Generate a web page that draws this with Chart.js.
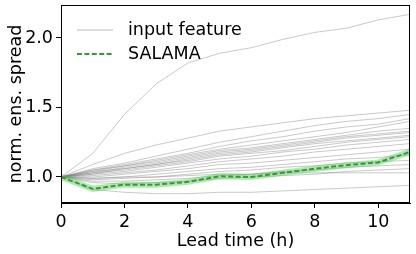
<!DOCTYPE html>
<html>
<head>
<meta charset="utf-8">
<script src="https://cdn.jsdelivr.net/npm/chart.js@4/dist/chart.umd.min.js"></script>
<style>
html,body{margin:0;padding:0;background:#fff;}
#c{display:block;}
</style>
</head>
<body>
<canvas id="c" width="416" height="254"></canvas>
<script>
const leadTimes = [0,1,2,3,4,5,6,7,8,9,10,11];
const xTickValues = [0,2,4,6,8,10];
const yTickValues = [1.0,1.5,2.0];
const legendLabels = ["input feature","SALAMA"];

const salama = [1.0,0.915,0.945,0.945,0.965,1.005,1.0,1.03,1.06,1.085,1.105,1.18];

const feat01 = [1,1.17,1.45,1.67,1.82,1.89,1.93,1.99,2.04,2.07,2.13,2.17];
const feat02 = [1,1.09,1.17,1.23,1.28,1.33,1.36,1.39,1.42,1.44,1.46,1.48];
const feat03 = [1,1.06,1.10,1.15,1.20,1.25,1.29,1.33,1.37,1.40,1.42,1.45];
const feat04 = [1,1.05,1.09,1.13,1.17,1.22,1.26,1.29,1.33,1.36,1.38,1.42];
const feat05 = [1,1.04,1.08,1.12,1.16,1.20,1.23,1.26,1.29,1.32,1.36,1.40];
const feat06 = [1,1.05,1.08,1.11,1.15,1.19,1.21,1.24,1.27,1.30,1.33,1.35];
const feat07 = [1,1.03,1.07,1.10,1.14,1.18,1.20,1.23,1.26,1.29,1.31,1.33];
const feat08 = [1,1.04,1.06,1.09,1.13,1.17,1.19,1.22,1.25,1.28,1.30,1.32];
const feat09 = [1,1.02,1.06,1.09,1.12,1.16,1.18,1.21,1.24,1.26,1.28,1.30];
const feat10 = [1,1.03,1.05,1.08,1.11,1.15,1.17,1.19,1.22,1.25,1.27,1.29];
const feat11 = [1,1.02,1.04,1.07,1.10,1.13,1.15,1.18,1.20,1.23,1.25,1.27];
const feat12 = [1,1.01,1.03,1.05,1.08,1.11,1.13,1.15,1.18,1.20,1.22,1.24];
const feat13 = [1,1.00,1.02,1.04,1.06,1.09,1.10,1.12,1.14,1.16,1.18,1.20];
const feat14 = [1,0.99,1.00,1.02,1.04,1.06,1.07,1.09,1.11,1.13,1.14,1.16];
const feat15 = [1,0.98,0.99,1.00,1.02,1.04,1.05,1.07,1.08,1.10,1.11,1.12];
const feat16 = [1,0.97,0.97,0.98,0.99,1.01,1.02,1.04,1.05,1.07,1.08,1.09];
const feat17 = [1,0.96,0.95,0.96,0.97,0.99,1.00,1.01,1.02,1.04,1.05,1.06];
const feat18 = [1,0.99,1.00,1.00,1.01,1.02,1.02,1.03,1.03,1.03,1.03,1.03];
const feat19 = [1,0.91,0.89,0.88,0.88,0.89,0.89,0.90,0.91,0.92,0.93,0.94];

const features = [feat01,feat02,feat03,feat04,feat05,feat06,feat07,feat08,feat09,feat10,
                  feat11,feat12,feat13,feat14,feat15,feat16,feat17,feat18,feat19];

const FONT = "DejaVu Sans";
const FS = 17.5;
const GREY = "rgba(120,120,120,0.5)";
const GREEN = "rgb(44,160,44)";
const BAND = "rgba(70,200,70,0.42)";

function pts(arr){ return arr.map((v,i)=>({x:leadTimes[i], y:v})); }

const datasets = [];
datasets.push({label:legendLabels[1], data:pts(salama), borderColor:GREEN, borderWidth:2,
  borderDash:[5,2.4], pointRadius:0, fill:false, order:0});
datasets.push({label:"band", data:pts(salama), borderColor:BAND, borderWidth:6,
  pointRadius:0, fill:false, order:1});
features.forEach((f,k)=>{
  datasets.push({label:legendLabels[0]+" "+(k+1), data:pts(f), borderColor:GREY, borderWidth:0.8,
    pointRadius:0, fill:false, order:2});
});

const framePlugin = {
  id:"frame",
  afterDraw(chart){
    const {ctx, chartArea:a} = chart;
    ctx.save();
    ctx.strokeStyle = "#000";
    ctx.lineWidth = 1;
    ctx.strokeRect(a.left+0.5, a.top+0.5, a.right-a.left-1, a.bottom-a.top-1);
    // legend
    const x0 = a.left + 16, x1 = a.left + 52, tx = a.left + 67;
    const y1 = a.top + 25, y2 = a.top + 49;
    ctx.lineWidth = 1;
    ctx.strokeStyle = GREY;
    ctx.beginPath(); ctx.moveTo(x0,y1); ctx.lineTo(x1,y1); ctx.stroke();
    ctx.strokeStyle = GREEN; ctx.lineWidth = 1.8; ctx.setLineDash([5,2.4]);
    ctx.beginPath(); ctx.moveTo(x0,y2); ctx.lineTo(x1,y2); ctx.stroke();
    ctx.setLineDash([]);
    ctx.fillStyle = "#000";
    ctx.font = FS + "px '" + FONT + "'";
    ctx.textBaseline = "middle";
    ctx.textAlign = "left";
    ctx.fillText(legendLabels[0], tx, y1);
    ctx.fillText(legendLabels[1], tx, y2);
    ctx.restore();
  }
};

new Chart(document.getElementById("c"), {
  type:"line",
  data:{datasets},
  options:{
    responsive:false,
    animation:false,
    devicePixelRatio:1,
    layout:{padding:{top:5,right:6,left:0,bottom:0}},
    plugins:{legend:{display:false}, tooltip:{enabled:false}},
    scales:{
      x:{
        type:"linear", min:0, max:11,
        afterBuildTicks(s){ s.ticks = xTickValues.map(v=>({value:v})); },
        afterFit(s){ s.height = 51; s.paddingLeft = 0; s.paddingRight = 0; },
        ticks:{color:"#000", font:{family:FONT,size:FS}, padding:3.5, maxRotation:0,
          callback:(v)=>String(v)},
        grid:{display:true, drawOnChartArea:false, drawTicks:true, tickLength:5, color:"#000", tickWidth:1},
        border:{display:true, color:"#000", width:1},
        title:{display:true, text:"Lead time (h)", color:"#000", font:{family:FONT,size:FS}, padding:{top:0,bottom:2}}
      },
      y:{
        type:"linear", min:0.813, max:2.237,
        afterBuildTicks(s){ s.ticks = yTickValues.map(v=>({value:v})); },
        afterFit(s){ s.width = 61; s.paddingTop = 0; s.paddingBottom = 0; },
        ticks:{color:"#000", font:{family:FONT,size:FS}, padding:3,
          callback:(v)=>Number(v).toFixed(1)},
        grid:{display:true, drawOnChartArea:false, drawTicks:true, tickLength:5, color:"#000", tickWidth:1},
        border:{display:true, color:"#000", width:1},
        title:{display:true, text:"norm. ens. spread", color:"#000", font:{family:FONT,size:FS}, padding:{top:6,bottom:0}}
      }
    }
  },
  plugins:[framePlugin]
});
</script>
</body>
</html>
